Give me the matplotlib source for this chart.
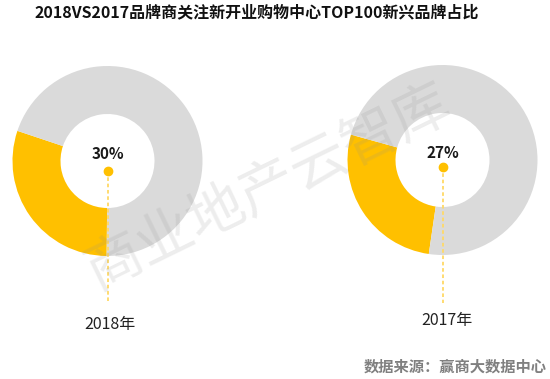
import matplotlib.pyplot as plt

plt.rcParams['font.family'] = ['Noto Sans CJK SC', 'DejaVu Sans']

# data
years = ["2018年", "2017年"]
shares = [30, 27]          # new-brand share (%)
title = "2018VS2017品牌商关注新开业购物中心TOP100新兴品牌占比"
source = "数据来源：赢商大数据中心"
watermark = "商业地产云智库"

yellow = "#FFC000"
grey = "#DADADA"
W, H = 550, 379

fig = plt.figure(figsize=(W / 100, H / 100), dpi=100)
ax = fig.add_axes([0, 0, 1, 1])

# layout in pixel coords (y up)
centers = [(107.5, 218), (442.5, 219)]
starts = [161.5, 164.5]
pct_y = [225, 226]
dot_y = [208, 212]
year_pos = [(110, 54), (447, 58)]

for (cx, cy), share, st, py, dy, (yx, yy), yr in zip(centers, shares, starts, pct_y, dot_y, year_pos, years):
    ax.pie([share, 100 - share], colors=[yellow, grey], startangle=st,
           center=(cx, cy), radius=95,
           wedgeprops=dict(width=48, edgecolor='none'))
    ax.text(cx, py, f"{share}%", ha='center', va='center', fontsize=11,
            fontweight='bold', color='#1a1a1a')
    ax.plot([cx, cx], [dy, 76], color='#FFD966', lw=1.3, ls=(0, (2, 1.5)), zorder=3)
    ax.plot(cx, dy, 'o', color=yellow, markersize=6, zorder=4)
    ax.text(yx, yy, yr, ha='center', va='center', fontsize=11.5, color='#222222')

ax.text(257, 367, title, ha='center', va='center', fontsize=11.5,
        fontweight='bold', color='#111111')
ax.text(547, 12, source, ha='right', va='center', fontsize=11,
        color='#808080', fontweight='bold')

# faint diagonal watermark
ax.text(268, 192, watermark, ha='center', va='center', fontsize=41,
        rotation=26, color='#909090', alpha=0.16, zorder=5)

ax.set_xlim(0, W)
ax.set_ylim(0, H)
ax.set_aspect('equal')
ax.axis('off')

fig.savefig("out.png", dpi=100)
